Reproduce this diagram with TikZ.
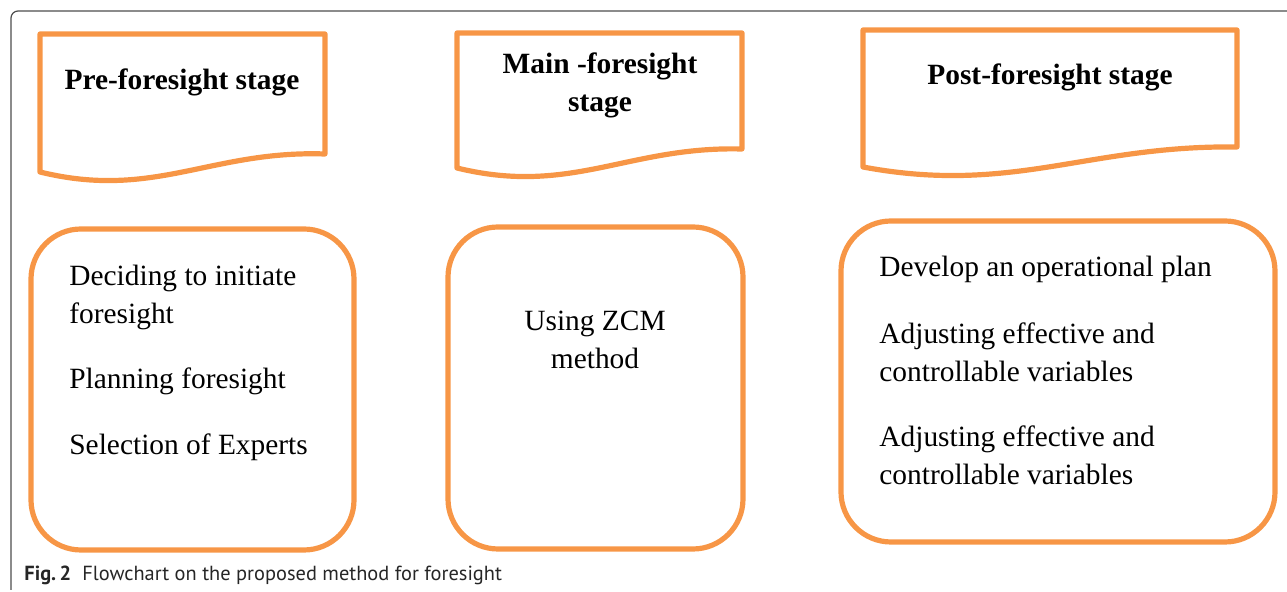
\documentclass[tikz,border=0pt]{standalone}
\usepackage{fontspec}
\setmainfont{Liberation Serif}
\newfontfamily\capfont{PT Sans}
\definecolor{orng}{HTML}{F79646}
\definecolor{framegray}{HTML}{4D4D4D}
\tikzset{
  shp/.style={draw=orng,line width=2.6pt,line join=round},
  boxshp/.style={shp,rounded corners=25pt},
  ttl/.style={anchor=base,inner sep=0pt,font=\fontsize{14.7}{17}\selectfont\bfseries},
  bodyl/.style={anchor=base west,inner sep=0pt,font=\fontsize{14.7}{17}\selectfont},
  bodyc/.style={anchor=base,inner sep=0pt,font=\fontsize{14.7}{17}\selectfont},
  captxt/.style={anchor=base west,inner sep=0pt,font=\capfont\fontsize{10.2}{12}\selectfont,text=black!85}
}
\begin{document}
\begin{tikzpicture}[x=0.5pt,y=-0.5pt]
\useasboundingbox (0,0) rectangle (1287,592);
% frame
\draw[framegray,line width=0.6pt,rounded corners=3.5pt] (11,590) -- (11,11) -- (1287,11);
% document shapes
\draw[shp] (40,172) -- (40,34) -- (325,34) -- (325,154)
  .. controls (211,150) and (154,200) .. (40,172) -- cycle;
\draw[shp] (457,168) -- (457,33) -- (742,33) -- (742,149)
  .. controls (628,146) and (571,196) .. (457,168) -- cycle;
\draw[shp] (863,167) -- (863,30) -- (1237,30) -- (1237,147)
  .. controls (1087,145) and (1013,195) .. (863,167) -- cycle;
% rounded boxes
\draw[boxshp] (31,229) rectangle (354,550);
\draw[boxshp] (448,227) rectangle (743,549);
\draw[boxshp] (841,221) rectangle (1275,542);
% titles
\node[ttl] (h1) at (182,90) {Pre-foresight stage};
\node[ttl] (h2a) at (600,74) {Main -foresight};
\node[ttl] (h2b) at (600,112) {stage};
\node[ttl] (h3) at (1050,85) {Post-foresight stage};
% box 1
\node[bodyl] (a1) at (69,286) {Deciding to initiate};
\node[bodyl] (a2) at (69,324) {foresight};
\node[bodyl] (a3) at (69,389) {Planning foresight};
\node[bodyl] (a4) at (69,455) {Selection of Experts};
% box 2
\node[bodyc] (b1) at (595,331) {Using ZCM};
\node[bodyc] (b2) at (595,369) {method};
% box 3
\node[bodyl] (c1) at (879,277) {Develop an operational plan};
\node[bodyl] (c2) at (879,344) {Adjusting effective and};
\node[bodyl] (c3) at (879,382) {controllable variables};
\node[bodyl] (c4) at (879,447) {Adjusting effective and};
\node[bodyl] (c5) at (879,485) {controllable variables};
% caption
\node[captxt] (cap) at (24,581) {\textbf{Fig.\,2}\hspace{0.55em}Flowchart on the proposed method for foresight};
\end{tikzpicture}
\end{document}
